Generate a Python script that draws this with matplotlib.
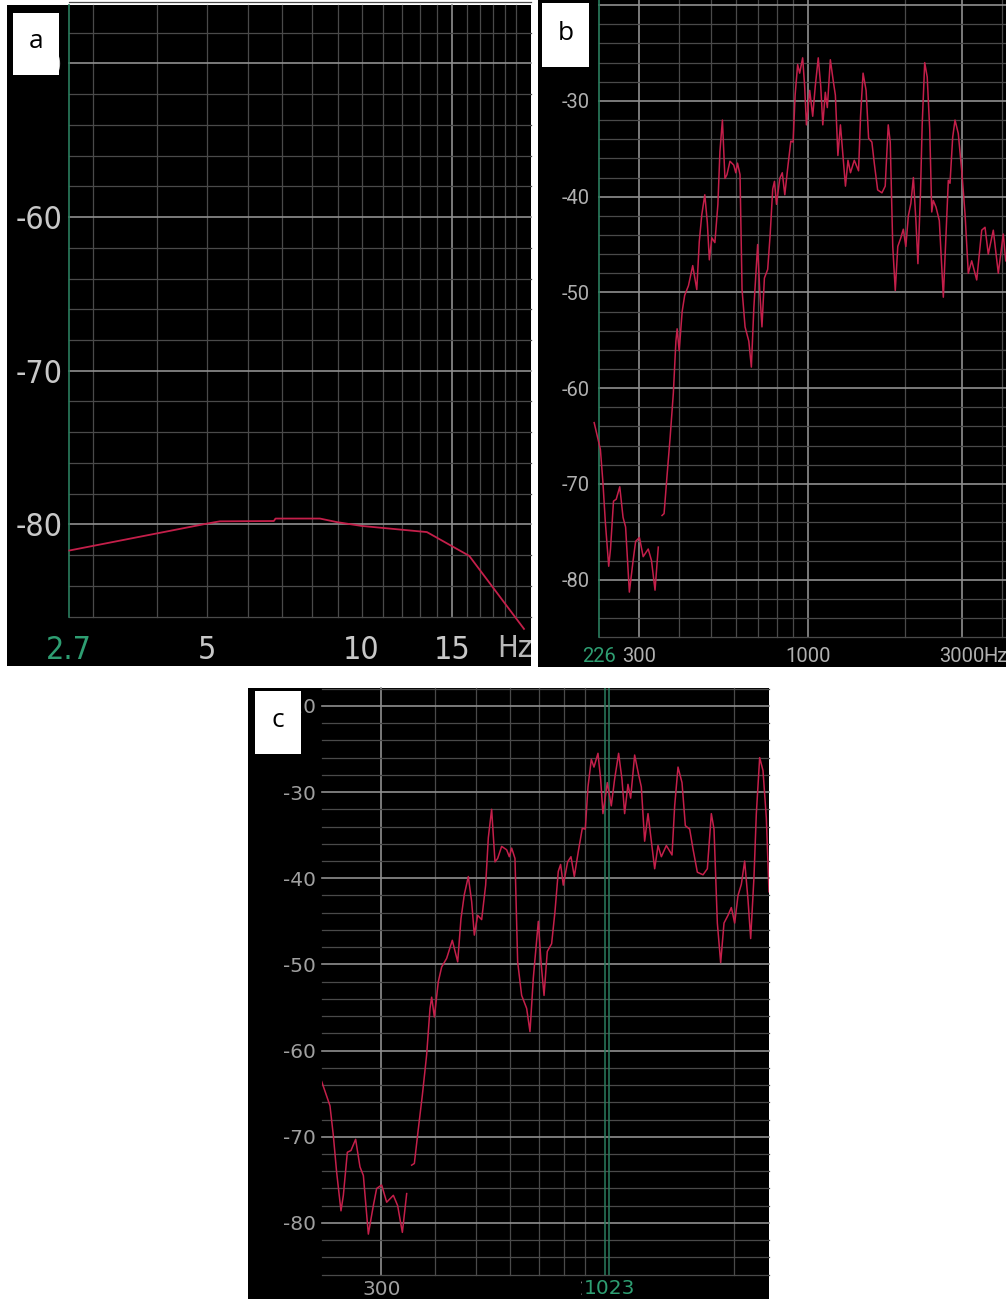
import numpy as np
import matplotlib.pyplot as plt
from matplotlib import ticker, font_manager
from matplotlib.font_manager import FontProperties
from matplotlib.patches import Rectangle

W, H = 1006, 1299

# panel a: response at the low end (Hz, dB)
a_freq = [2.7, 5.0, 5.3, 6.75, 6.8, 8.3, 8.95, 10.0, 13.4, 16.2, 20.7]
a_level = [-81.7, -79.95, -79.8, -79.78, -79.62, -79.62, -79.85, -80.1, -80.5, -82.05, -86.8]

# spectrum shown in b and c (Hz, dB); the trace breaks between low and mid
low_freq = [217.7, 227.6, 231.7, 235.9, 241.5, 244.6, 249.9, 254.8, 261.3, 267.5,
            272.4, 279.8, 287.4, 292.6, 300.6, 308.8, 320.1, 327.6, 336.0, 343.9]
low_level = [-63.6, -66.4, -69.8, -74.1, -78.6, -76.8, -71.8, -71.6, -70.3, -73.5,
             -74.5, -81.3, -78.0, -76.0, -75.6, -77.6, -76.8, -78.0, -81.1, -76.6]

mid_freq = [353.2, 358.4, 366.1, 374.1, 382.9, 389.9, 393.4, 399.1, 407.7, 415.1,
            426.4, 439.6, 452.5, 460.6, 468.9, 479.1, 487.8, 494.9, 503.8, 514.8,
            526.0, 533.6, 543.2, 553.1, 561.1, 573.3, 588.9, 597.4, 605.0, 615.9,
            624.8, 638.4, 655.8, 667.7, 679.7, 698.3, 708.4, 720.1, 732.8,
            750.1, 763.7, 777.5, 787.3, 798.7, 817.6, 832.4, 847.5, 865.9, 884.7,
            899.1, 912.2, 928.7, 942.1, 962.6, 976.5, 988.8, 1012.1, 1034.1, 1052.8,
            1075.7, 1095.2, 1111.1, 1131.2, 1147.6, 1172.6, 1198.1, 1215.4, 1237.4, 1260.0,
            1282.8, 1306.0, 1329.7, 1353.7, 1390.6, 1433.7, 1454.4, 1480.7, 1512.9, 1540.3,
            1576.6, 1605.1, 1643.0, 1693.9, 1733.8, 1771.5, 1797.2, 1829.7, 1862.8, 1896.5,
            1937.8, 1972.8, 2008.5, 2044.8, 2081.9, 2119.5, 2157.9, 2189.1, 2228.7, 2256.8,
            2297.7, 2339.2, 2381.5, 2416.0]
mid_level = [-73.3, -73.1, -69.1, -65.2, -60.5, -55.1, -53.8, -56.1, -52.0, -50.3,
             -49.3, -47.2, -49.7, -44.7, -41.9, -39.8, -42.7, -46.6, -44.3, -44.8,
             -40.8, -35.3, -32.0, -38.1, -37.7, -36.3, -36.7, -37.5, -36.5, -37.7,
             -49.7, -53.6, -55.1, -57.8, -51.6, -45.0, -49.7, -53.6, -48.5,
             -47.6, -43.9, -39.2, -38.4, -40.8, -38.1, -37.5, -39.8, -36.9, -34.2,
             -34.3, -29.4, -26.2, -27.1, -25.5, -28.5, -32.5, -28.9, -31.6, -28.5,
             -25.5, -28.5, -32.5, -29.1, -30.7, -25.7, -28.0, -29.4, -35.7, -32.5,
             -35.7, -38.9, -36.2, -37.5, -36.2, -37.3, -31.6, -27.1, -28.9, -33.9,
             -34.3, -36.6, -39.3, -39.6, -38.9, -32.5, -34.3, -45.2, -49.8, -45.2,
             -44.3, -43.4, -45.2, -42.0, -40.7, -38.0, -42.5, -47.0, -39.8, -32.5,
             -26.0, -27.5, -33.0, -41.6]

high_freq = [2443, 2491, 2550, 2624, 2675, 2719, 2752, 2805, 2852, 2919, 2990,
             3063, 3135, 3212, 3329, 3450, 3532, 3615, 3747, 3883, 4023, 4094]
high_level = [-40.4, -41.1, -42.5, -50.5, -43.9, -38.3, -38.6, -33.8, -32.0, -33.4, -37.2,
              -41.8, -48.0, -46.7, -48.7, -43.5, -43.2, -46.0, -43.5, -48.0, -43.9, -46.7]

spec_freq = np.array(low_freq + [np.nan] + mid_freq + high_freq)
spec_level = np.array(low_level + [np.nan] + mid_level + high_level)

# ticks and labels
a_xticks = [2.7, 5, 10, 15]
a_xlabels = ['2.7', '5', '10', '15']
a_yticks = [-50, -60, -70, -80]
b_xticks = [226, 300, 1000, 3000]
b_xlabels = ['226', '300', '1000', '3000']
b_yticks = [-30, -40, -50, -60, -70, -80]
c_xticks = [300, 1000]
c_xlabels = ['300', '1000']
c_yticks = [-20, -30, -40, -50, -60, -70, -80]
cursor_c = 1023

# grid positions
a_vgrid = list(range(3, 21))
a_vmajor = [15]
b_vgrid = [300, 400, 500, 600, 700, 800, 900, 1000, 2000, 3000, 4000]
b_vmajor = [300, 1000, 3000]
c_vgrid = [300, 400, 500, 600, 700, 800, 900, 2000]
c_vmajor = [300]

RED = '#c41f4a'
GREEN_TXT = '#2e9e72'
GREEN_LINE = '#2b7d5e'
MAJOR = '#8f8f8f'
MINOR = '#4a4a4a'


def narrow_props(size):
    # panel a uses a tall narrow face; take a condensed sans if one is installed
    for f in font_manager.fontManager.ttflist:
        if 'Serif' in f.name or 'Mono' in f.name:
            continue
        cond = (f.stretch in ('condensed', 'semi-condensed', 'extra-condensed')
                or 'Narrow' in f.name or 'Condensed' in f.name)
        if cond and f.style == 'normal' and f.weight in (400, 'normal', 'regular', 'book'):
            return FontProperties(fname=f.fname, size=size)
    return FontProperties(family='Roboto', size=size)


fig = plt.figure(figsize=(W / 100, H / 100), dpi=100, facecolor='white')


def px_axes(x0, y0, x1, y1):
    return fig.add_axes([x0 / W, 1 - y1 / H, (x1 - x0) / W, (y1 - y0) / H])


def px_rect(x0, y0, x1, y1, color, z):
    fig.add_artist(Rectangle((x0 / W, 1 - y1 / H), (x1 - x0) / W, (y1 - y0) / H,
                             transform=fig.transFigure, facecolor=color,
                             edgecolor='none', zorder=z))


def px_text(x, y, s, **kw):
    return fig.text(x / W, 1 - y / H, s, **kw)


def setup(ax, xlim, ylim, vgrid, vmajor):
    ax.set_facecolor('none')
    ax.set_xscale('log')
    ax.set_xlim(xlim)
    ax.set_ylim(ylim)
    for s in ax.spines.values():
        s.set_visible(False)
    for v in vgrid:
        major = v in vmajor
        ax.axvline(v, color=MAJOR if major else MINOR, lw=1.2 if major else 0.9,
                   zorder=1, clip_on=False)
    for h in range(-86, int(ylim[1]) + 1, 2):
        major = h % 10 == 0
        ax.axhline(h, color=MAJOR if major else MINOR, lw=1.2 if major else 0.9,
                   zorder=1, clip_on=False)
    ax.xaxis.set_minor_locator(ticker.NullLocator())
    ax.yaxis.set_minor_locator(ticker.NullLocator())
    ax.tick_params(length=0)


# black screens
px_rect(7, 5, 531, 666, 'black', -1)
px_rect(538, 0, 1006, 667, 'black', -1)
px_rect(248, 688, 769, 1299, 'black', -1)

# ---- a ----
ax_a = px_axes(69.3, 5, 531, 616.6)
setup(ax_a, (2.7, 21.36), (-86, -46.2), a_vgrid, a_vmajor)
ax_a.axvline(2.7, color=GREEN_LINE, lw=1.2, zorder=2, clip_on=False)
ax_a.plot(a_freq, a_level, color=RED, lw=1.3, zorder=3, clip_on=False)
ax_a.set_xticks(a_xticks, a_xlabels)
ax_a.set_yticks(a_yticks, [str(t) for t in a_yticks])
ax_a.tick_params(axis='x', pad=13, labelcolor='#c8c8c8')
ax_a.tick_params(axis='y', pad=5, labelcolor='#c8c8c8')
fp_a = narrow_props(23)
for lab in ax_a.get_xticklabels() + ax_a.get_yticklabels():
    lab.set_fontproperties(fp_a)
ax_a.get_xticklabels()[0].set_color(GREEN_TXT)
px_text(515, 648, 'Hz', ha='center', va='center', color='#b8b8b8',
        fontproperties=narrow_props(22))

# ---- b ----
ax_b = px_axes(599.4, 0, 1006, 637.1)
setup(ax_b, (226, 4102), (-86, -19.46), b_vgrid, b_vmajor)
ax_b.axvline(226, color=GREEN_LINE, lw=1.2, zorder=2, clip_on=False)
ax_b.plot(spec_freq, spec_level, color=RED, lw=1.1, zorder=3, clip_on=False)
ax_b.set_xticks(b_xticks, b_xlabels)
ax_b.set_yticks(b_yticks, [str(t) for t in b_yticks])
ax_b.tick_params(axis='x', pad=7, labelsize=14.5, labelcolor='#b0b0b0')
ax_b.tick_params(axis='y', pad=7, labelsize=14.5, labelcolor='#b0b0b0')
for lab in ax_b.get_xticklabels() + ax_b.get_yticklabels():
    lab.set_family('Roboto')
ax_b.get_xticklabels()[0].set_color(GREEN_TXT)
px_text(983, 656, 'Hz', ha='left', va='center', fontsize=14.5, color='#b0b0b0',
        family='Roboto')

# ---- c ----
ax_c = px_axes(321.7, 688, 769, 1274.6)
setup(ax_c, (217.7, 2416), (-86, -17.92), c_vgrid, c_vmajor)
ax_c.axvline(1000, color=GREEN_LINE, lw=1.1, zorder=2)
ax_c.axvline(cursor_c, color=GREEN_LINE, lw=1.1, zorder=2)
ax_c.plot(spec_freq, spec_level, color=RED, lw=1.1, zorder=3)
ax_c.set_xticks(c_xticks, c_xlabels)
ax_c.set_yticks(c_yticks, [str(t) for t in c_yticks])
ax_c.tick_params(axis='x', pad=4, labelsize=14.5, labelcolor='#a0a0a0')
ax_c.tick_params(axis='y', pad=4, labelsize=14.5, labelcolor='#a0a0a0')
px_text(609, 1289, str(cursor_c), ha='center', va='center', fontsize=14.5,
        color=GREEN_TXT, zorder=6,
        bbox=dict(boxstyle='square,pad=0.05', facecolor='black', edgecolor='none'))

# panel letters
for (x0, y0, x1, y1), letter in [((13, 13, 59, 75), 'a'),
                                 ((542, 3, 589, 67), 'b'),
                                 ((255, 691, 301, 754), 'c')]:
    px_rect(x0, y0, x1, y1, 'white', 5)
    px_text((x0 + x1) / 2, (y0 + y1) / 2 - 2, letter, ha='center', va='center',
            fontsize=19, color='black', family='Open Sans', zorder=6)

fig.savefig('out.png', dpi=100, facecolor='white')
